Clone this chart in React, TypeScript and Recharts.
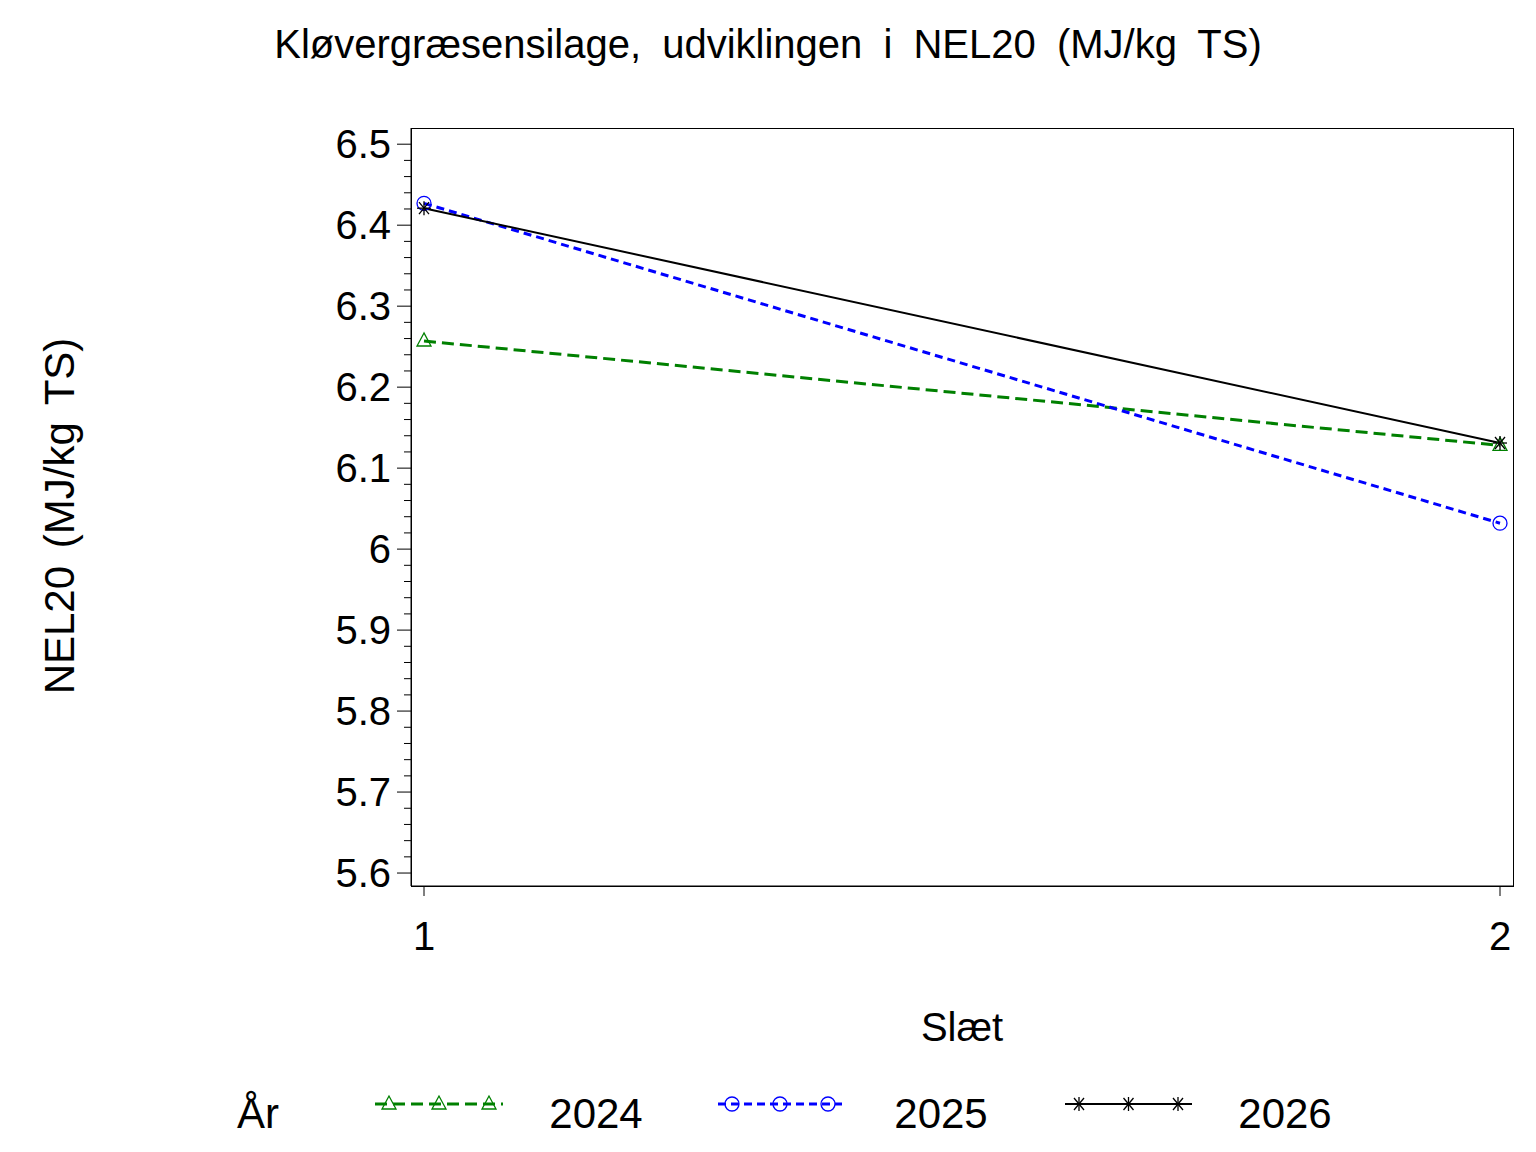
import React from "react";
import { LineChart, Line, XAxis, YAxis } from "recharts";

const slaet = [1, 2];
const nel2024 = [6.257, 6.128];
const nel2025 = [6.427, 6.032];
const nel2026 = [6.421, 6.131];
const majorTicks = [5.6, 5.7, 5.8, 5.9, 6.0, 6.1, 6.2, 6.3, 6.4, 6.5];
const minorTicks: number[] = [];
for (let i = 0; i <= 45; i++) minorTicks.push(Math.round((5.6 + i * 0.02) * 100) / 100);

const data = slaet.map((s, i) => ({ s, a: nel2024[i], b: nel2025[i], c: nel2026[i] }));
const FONT = "'Liberation Sans', Arial, sans-serif";

const Tri = (p: any) => {
  const { cx, cy, stroke } = p;
  return <polygon points={`${cx},${cy - 8} ${cx - 7},${cy + 5} ${cx + 7},${cy + 5}`} fill="none" stroke={stroke} strokeWidth={1.3} />;
};
const Circ = (p: any) => <circle cx={p.cx} cy={p.cy} r={7} fill="none" stroke={p.stroke} strokeWidth={1.3} />;
const Star = (p: any) => {
  const { cx, cy, stroke } = p;
  return (
    <g stroke={stroke} strokeWidth={1.3}>
      <line x1={cx - 7} y1={cy} x2={cx + 7} y2={cy} />
      <line x1={cx - 5} y1={cy - 6} x2={cx + 5} y2={cy + 6} />
      <line x1={cx - 5} y1={cy + 6} x2={cx + 5} y2={cy - 6} />
      <line x1={cx} y1={cy - 7} x2={cx} y2={cy + 7} />
    </g>
  );
};

const YTick = (p: any) => {
  const { x, y, payload } = p;
  const v = payload.value;
  const major = majorTicks.some((m) => Math.abs(m - v) < 1e-6);
  return (
    <g>
      <line x1={x - (major ? 14 : 7)} y1={y} x2={x} y2={y} stroke="#000" strokeWidth={1} />
      {major && (
        <text x={x - 20} y={y + 14} textAnchor="end" fontSize={40} fontFamily={FONT} fill="#000">
          {String(v)}
        </text>
      )}
    </g>
  );
};

const legendItems = [
  { label: "2024", color: "#008000", x1: 375, x2: 503, dash: "12 6", Mark: Tri, tx: 596 },
  { label: "2025", color: "#0000ff", x1: 718, x2: 842, dash: "8 5", Mark: Circ, tx: 941 },
  { label: "2026", color: "#000000", x1: 1065, x2: 1192, dash: undefined, Mark: Star, tx: 1285 },
];

export default function App() {
  return (
    <div style={{ position: "relative", width: 1520, height: 1136, background: "#fff", fontFamily: FONT }}>
      <LineChart width={1520} height={1136} data={data} margin={{ top: 120, right: 15, bottom: 158, left: 0 }}>
        <XAxis
          dataKey="s"
          type="number"
          domain={[1, 2]}
          ticks={[1, 2]}
          padding={{ left: 13, right: 13 }}
          height={100}
          stroke="#000"
          tickSize={10}
          tickMargin={10}
          tick={{ fontSize: 40, fill: "#000", fontFamily: FONT, dy: 16 }}
        />
        <YAxis
          type="number"
          domain={[5.584, 6.52]}
          ticks={minorTicks}
          interval={0}
          allowDataOverflow
          width={403}
          stroke="#000"
          tickLine={false}
          tickSize={0}
          tickMargin={0}
          tick={<YTick />}
        />
        <Line dataKey="a" stroke="#008000" strokeWidth={3} strokeDasharray="12 6" dot={<Tri />} isAnimationActive={false} />
        <Line dataKey="b" stroke="#0000ff" strokeWidth={3} strokeDasharray="8 5" dot={<Circ />} isAnimationActive={false} />
        <Line dataKey="c" stroke="#000000" strokeWidth={2} dot={<Star />} isAnimationActive={false} />
      </LineChart>
      <svg width={1520} height={1136} style={{ position: "absolute", left: 0, top: 0, pointerEvents: "none" }}>
        <rect x={403.5} y={120.5} width={1102} height={758} fill="none" stroke="#000" strokeWidth={1} />
        <text x={760} y={50} textAnchor="middle" fontSize={40} fontFamily={FONT} style={{ wordSpacing: "10px" }}>
          Kløvergræsensilage, udviklingen i NEL20 (MJ/kg TS)
        </text>
        <text x={0} y={0} transform="translate(66,508) rotate(-90)" textAnchor="middle" fontSize={42} fontFamily={FONT} style={{ wordSpacing: "6px" }}>
          NEL20 (MJ/kg TS)
        </text>
        <text x={954} y={1033} textAnchor="middle" fontSize={40} fontFamily={FONT}>Slæt</text>
        <text x={250} y={1120} textAnchor="middle" fontSize={42} fontFamily={FONT}>År</text>
        {legendItems.map((it) => (
          <g key={it.label}>
            <line x1={it.x1 - 8} y1={1096} x2={it.x2 - 8} y2={1096} stroke={it.color} strokeWidth={it.dash ? 3 : 2} strokeDasharray={it.dash} />
            {[0, 0.5, 1].map((f) => (
              <it.Mark key={f} cx={it.x1 + 6 + f * (it.x2 - it.x1 - 28)} cy={1096} stroke={it.color} />
            ))}
            <text x={it.tx - 8} y={1120} textAnchor="middle" fontSize={42} fontFamily={FONT}>{it.label}</text>
          </g>
        ))}
      </svg>
    </div>
  );
}
